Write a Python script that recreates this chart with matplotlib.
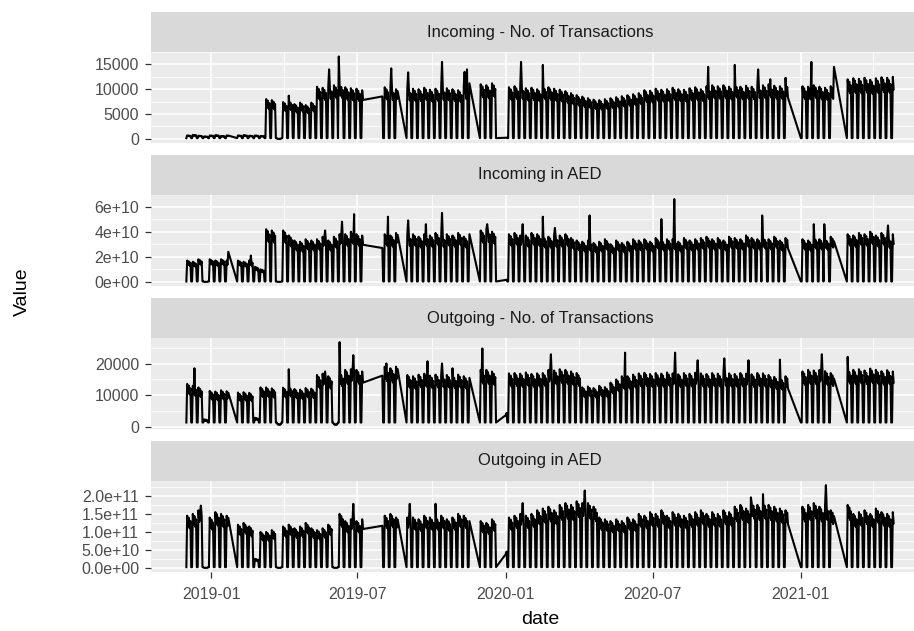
import numpy as np
import pandas as pd
import matplotlib
matplotlib.use("Agg")
import matplotlib.pyplot as plt

plt.rcParams["font.family"] = ["Liberation Sans", "DejaVu Sans"]

# one value per week (weeks start on Saturday 2018-12-01), weekdays only
in_count_weekly = [
    700, 800, 650, 500, 700, 750, 600, 700, 650, 700,
    750, 650, 700, 600, 8000, 7800, 0, 7400, 7600, 7000,
    7300, 6800, 7300, 10500, 10300, 10600, 10800, 10900, 10400, 10200,
    10100, 9800, 9500, 9500, 9500, 10400, 10300, 10000, 10000, 10200,
    10100, 10000, 10300, 9900, 10100, 10400, 10200, 10000, 9800, 10600,
    11200, 11000, 11000, 10800, 11200, 300, 300, 10400, 10600, 10700,
    10200, 10300, 10000, 10500, 10400, 10100, 9900, 9600, 9200, 8800,
    8500, 8200, 7900, 7800, 8000, 8200, 8400, 8600, 8800, 9000,
    9200, 9800, 9700, 10100, 9900, 10000, 10300, 10000, 9900, 10200,
    10400, 10000, 10600, 10800, 10600, 10800, 10500, 10900, 10500, 10700,
    10500, 10800, 10800, 11000, 10700, 10600, 10900, 10500, 10400, 10600,
    10500, 10800, 10500, 10300, 10600, 10600, 11000, 12000, 12200, 12100,
    12300, 11900, 12200, 12400, 12300, 12500,
]
in_aed_weekly = [  # x 1e10
    1.7, 1.6, 1.8, 0.0, 1.8, 1.7, 1.8, 1.7, 1.5, 1.7,
    1.6, 1.7, 1.2, 1.0, 4.2, 4.1, 0.0, 4.1, 3.7, 3.3,
    3.2, 3.4, 3.3, 3.4, 3.6, 3.3, 3.6, 3.8, 3.8, 4.0,
    3.8, 3.7, 3.0, 3.0, 3.0, 3.8, 3.7, 3.9, 3.8, 3.8,
    3.8, 3.6, 3.8, 3.7, 3.9, 3.7, 3.8, 3.7, 3.9, 3.6,
    3.8, 3.5, 4.1, 4.2, 4.0, 0.2, 0.2, 3.8, 3.9, 3.7,
    3.7, 3.9, 3.8, 3.6, 3.6, 3.7, 3.7, 3.8, 3.5, 3.3,
    3.2, 3.3, 3.1, 3.2, 3.4, 3.0, 3.3, 3.1, 3.2, 3.4,
    3.3, 3.4, 3.2, 3.5, 3.3, 3.4, 3.4, 3.2, 3.5, 3.3,
    3.4, 3.5, 3.6, 3.4, 3.5, 3.3, 3.6, 3.5, 3.4, 3.7,
    3.5, 3.4, 3.5, 3.4, 3.6, 3.3, 3.5, 3.0, 3.5, 3.4,
    3.3, 3.5, 3.4, 3.4, 3.6, 2.5, 2.5, 3.8, 3.7, 3.9,
    3.8, 4.0, 3.7, 3.9, 3.6, 3.8,
]
out_count_weekly = [
    13600, 13000, 12500, 2500, 11400, 11200, 11600, 11300, 10000, 10900,
    11000, 10800, 3000, 12500, 12500, 12200, 1000, 12400, 12600, 12000,
    11800, 12300, 12100, 16400, 16800, 16000, 1000, 17000, 18000, 18200,
    18000, 17500, 18000, 18000, 18000, 19000, 18500, 19000, 17000, 16400,
    16000, 16500, 16800, 16200, 16500, 16600, 16400, 16200, 16500, 16000,
    15500, 14000, 18000, 18000, 17500, 5000, 5000, 16900, 17000, 16800,
    17200, 16700, 16900, 17000, 18000, 17800, 18200, 18000, 17500, 17000,
    12500, 12800, 12300, 13000, 12600, 14000, 15000, 16000, 16000, 16500,
    16900, 17100, 16700, 17000, 16800, 17200, 16900, 16600, 17000, 16800,
    17100, 16900, 16700, 17000, 16800, 17200, 16900, 16700, 17000, 16800,
    16600, 17000, 16900, 16400, 15800, 15500, 16000, 12000, 18000, 17500,
    18000, 17800, 18000, 17600, 17000, 14000, 14000, 18000, 18000, 18200,
    17800, 18400, 18000, 17600, 17900, 17500,
]
out_aed_weekly = [  # x 1e11
    1.45, 1.5, 1.6, 0.0, 1.4, 1.55, 1.5, 1.45, 1.0, 1.2,
    1.25, 1.15, 0.25, 1.0, 1.0, 1.05, 0.0, 1.15, 1.2, 1.1,
    1.15, 1.25, 1.1, 1.05, 1.1, 1.2, 0.0, 1.5, 1.3, 1.35,
    1.3, 1.35, 1.3, 1.3, 1.3, 1.45, 1.5, 1.4, 1.3, 1.4,
    1.4, 1.35, 1.45, 1.4, 1.4, 1.45, 1.35, 1.4, 1.5, 1.45,
    1.3, 1.2, 1.3, 1.25, 1.35, 0.5, 0.5, 1.4, 1.45, 1.5,
    1.45, 1.5, 1.6, 1.65, 1.7, 1.6, 1.75, 1.8, 1.75, 1.85,
    1.8, 1.8, 1.7, 1.4, 1.35, 1.3, 1.35, 1.3, 1.4, 1.35,
    1.5, 1.45, 1.55, 1.5, 1.6, 1.45, 1.55, 1.5, 1.45, 1.5,
    1.55, 1.6, 1.5, 1.55, 1.5, 1.6, 1.55, 1.7, 1.75, 1.65,
    1.8, 1.75, 1.8, 1.75, 1.7, 1.65, 1.6, 1.3, 1.6, 1.7,
    1.75, 1.8, 1.7, 1.75, 1.6, 1.2, 1.2, 1.75, 1.5, 1.55,
    1.6, 1.5, 1.65, 1.55, 1.5, 1.55,
]

# single-day peaks
in_count_peaks = [
    ("2019-04-07", 8700), ("2019-05-27", 14000), ("2019-06-08", 16600),
    ("2019-08-12", 14200), ("2019-09-02", 13400), ("2019-10-14", 15500),
    ("2019-11-11", 13500), ("2019-11-14", 14000), ("2020-01-20", 15500),
    ("2020-02-16", 14900), ("2020-09-08", 14500), ("2020-10-11", 14900),
    ("2020-11-09", 14000), ("2020-11-24", 12000), ("2020-12-13", 12300),
    ("2021-01-14", 15500), ("2021-02-11", 14500),
]
in_aed_peaks = [
    ("2019-01-22", 2.4), ("2019-02-19", 2.1), ("2019-05-22", 4.1),
    ("2019-06-12", 4.8), ("2019-06-27", 5.4), ("2019-08-08", 5.2),
    ("2019-09-02", 4.9), ("2019-09-24", 4.6), ("2019-10-14", 5.5),
    ("2019-12-09", 4.6), ("2020-01-22", 4.6), ("2020-02-16", 5.2),
    ("2020-03-02", 4.3), ("2020-04-14", 5.3), ("2020-07-12", 5.0),
    ("2020-07-28", 6.6), ("2020-11-14", 5.3), ("2021-01-17", 4.6),
    ("2021-01-30", 4.6), ("2021-04-19", 4.5),
]
out_count_peaks = [
    ("2018-12-11", 18500), ("2019-04-07", 18200), ("2019-05-22", 17500),
    ("2019-06-09", 26700), ("2019-06-26", 22600), ("2019-08-06", 20000),
    ("2019-09-26", 20700), ("2019-10-14", 20000), ("2019-10-27", 18500),
    ("2019-12-03", 24700), ("2020-02-26", 22900), ("2020-05-28", 23400),
    ("2020-07-29", 23400), ("2020-08-26", 21000), ("2020-09-28", 21600),
    ("2020-10-28", 21000), ("2020-12-06", 21200), ("2021-01-27", 22900),
    ("2021-02-28", 22100),
]
out_aed_peaks = [
    ("2018-12-19", 1.73), ("2019-06-26", 1.78), ("2019-09-04", 1.78),
    ("2019-10-06", 1.78), ("2020-01-22", 1.8), ("2020-04-08", 2.15),
    ("2020-10-31", 1.96), ("2020-11-15", 2.05), ("2021-02-01", 2.3),
]

# weekend (Fri/Sat) values
in_count_floor = 150
in_aed_floor = 0.03
out_count_floor = 1500
out_aed_floor = 0.02

# weekday factors, Mon=0 .. Sun=6
weekday_shape = {0: 0.8, 1: 0.96, 2: 0.76, 3: 0.9, 6: 1.0}

# periods with no records
gaps = [
    ("2019-01-23", "2019-02-01"), ("2019-07-09", "2019-07-31"),
    ("2019-08-21", "2019-08-30"), ("2019-11-18", "2019-11-29"),
    ("2019-12-21", "2019-12-31"), ("2020-12-17", "2020-12-31"),
    ("2021-02-12", "2021-02-26"),
]

days = pd.date_range("2018-12-01", "2021-04-26", freq="D")
week = np.asarray((days - days[0]).days // 7)
keep = np.ones(len(days), bool)
for a, b in gaps:
    keep &= ~((days >= a) & (days <= b))


def daily(weekly, floor, peaks, scale):
    level = np.asarray(weekly, float)[week]
    vals = np.array([level[i] * weekday_shape[d] if d in weekday_shape else floor
                     for i, d in enumerate(days.dayofweek)])
    s = pd.Series(vals, index=days)
    for d, p in peaks:
        s[pd.Timestamp(d)] = p
    return s[keep] * scale


series = [
    ("Incoming - No. of Transactions", daily(in_count_weekly, in_count_floor, in_count_peaks, 1)),
    ("Incoming in AED", daily(in_aed_weekly, in_aed_floor, in_aed_peaks, 1e10)),
    ("Outgoing - No. of Transactions", daily(out_count_weekly, out_count_floor, out_count_peaks, 1)),
    ("Outgoing in AED", daily(out_aed_weekly, out_aed_floor, out_aed_peaks, 1e11)),
]

yticks = [
    ([0, 5000, 10000, 15000], ["0", "5000", "10000", "15000"], [2500, 7500, 12500, 17500]),
    ([0, 2e10, 4e10, 6e10], ["0e+00", "2e+10", "4e+10", "6e+10"], [1e10, 3e10, 5e10]),
    ([0, 10000, 20000], ["0", "10000", "20000"], [5000, 15000, 25000]),
    ([0, 5e10, 1e11, 1.5e11, 2e11], ["0.0e+00", "5.0e+10", "1.0e+11", "1.5e+11", "2.0e+11"],
     [2.5e10, 7.5e10, 1.25e11, 1.75e11, 2.25e11]),
]
xticks = pd.to_datetime(["2019-01-01", "2019-07-01", "2020-01-01", "2020-07-01", "2021-01-01"])
xlabels = ["2019-01", "2019-07", "2020-01", "2020-07", "2021-01"]
xminor = pd.to_datetime(["2019-04-01", "2019-10-01", "2020-04-01", "2020-10-01", "2021-04-01"])

W, H = 914, 631
fig = plt.figure(figsize=(W / 100, H / 100), dpi=100)
left, width = 151, 778

for i, (title, s) in enumerate(series):
    top = 52 + 143 * i
    ax = fig.add_axes([left / W, 1 - (top + 91) / H, width / W, 91 / H])
    ax.set_facecolor("#EBEBEB")
    ax.plot(s.index, s.values, color="black", lw=1.5)
    ax.margins(x=0.05, y=0.05)
    ticks, labels, minor = yticks[i]
    ax.set_yticks(ticks, labels)
    ax.set_yticks(minor, minor=True)
    ax.set_xticks(xticks, xlabels)
    ax.set_xticks(xminor, minor=True)
    ax.grid(which="major", color="white", lw=1.1)
    ax.grid(which="minor", color="white", lw=0.55)
    ax.set_axisbelow(True)
    for sp in ax.spines.values():
        sp.set_visible(False)
    ax.tick_params(which="minor", length=0)
    ax.tick_params(axis="y", length=4.5, width=0.9, color="#333333",
                   labelsize=11.5, labelcolor="#4D4D4D", pad=4)
    if i < 3:
        ax.tick_params(axis="x", length=0, labelbottom=False)
    else:
        ax.tick_params(axis="x", length=4, width=0.9, color="#333333",
                       labelsize=11.5, labelcolor="#4D4D4D", pad=7)

    strip = fig.add_axes([left / W, 1 - top / H, width / W, 40 / H])
    strip.set_facecolor("#D9D9D9")
    strip.set_xticks([])
    strip.set_yticks([])
    for sp in strip.spines.values():
        sp.set_visible(False)
    strip.text(0.5, 0.5, title, ha="center", va="center", fontsize=12,
               color="#1A1A1A", transform=strip.transAxes)

fig.text(22 / W, 1 - 292 / H, "Value", rotation=90, ha="center", va="center", fontsize=14)
fig.text(540 / W, 1 - 620 / H, "date", ha="center", va="center", fontsize=14)

fig.savefig("out.png", dpi=100, facecolor="white")
